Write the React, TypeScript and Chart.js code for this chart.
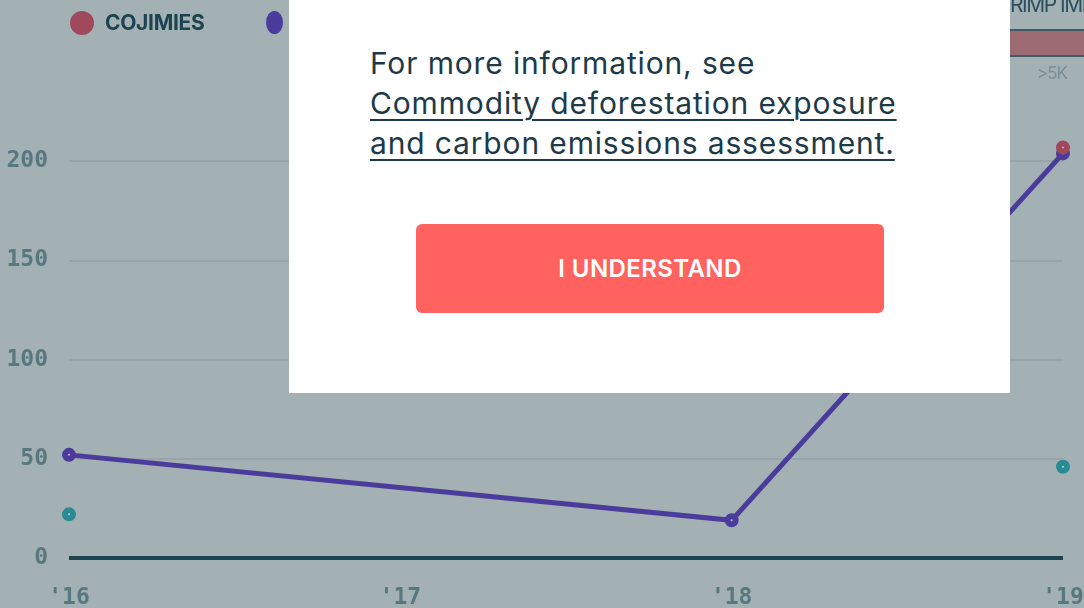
import React, { useEffect, useRef } from "react";
import { Chart, registerables } from "chart.js";

Chart.register(...registerables);

// ---- data ----
const YEARS: string[] = ["'16", "'17", "'18", "'19"];
const COJIMIES: (number | null)[] = [null, null, null, 207];
const SERIES_PURPLE: (number | null)[] = [52, null, 19, 204];
const SERIES_TEAL: (number | null)[] = [22, null, null, 46];
const Y_MIN = 0;
const Y_MAX = 240;
const Y_STEP = 50;
const LEGEND_LABELS: string[] = ["COJIMIES", "SAN VICENTE"];

const BG = "#a3b0b4";
const RED = "#a1495c";
const PURPLE = "#4b3b9b";
const TEAL = "#2a8b93";
const TICK_COLOR = "#587880";
const DARK = "#1d4350";

const zeroPad = (s: any) => {
  s.paddingTop = 0;
  s.paddingBottom = 0;
  s.paddingLeft = 0;
  s.paddingRight = 0;
};

export default function App() {
  const canvasRef = useRef<HTMLCanvasElement | null>(null);

  useEffect(() => {
    document.body.style.margin = "0";
    const canvas = canvasRef.current;
    if (!canvas) return;
    const monoFont = { family: "'DejaVu Sans Mono', monospace", size: 23, weight: "bold" as const };
    const pointStyle = (color: string, light: string) => ({
      borderColor: color,
      pointBorderColor: color,
      pointBackgroundColor: light,
      pointRadius: 4,
      pointBorderWidth: 6,
      pointHoverRadius: 4,
      borderWidth: 5,
      tension: 0,
    });
    const chart = new Chart(canvas, {
      type: "line",
      data: {
        labels: YEARS,
        datasets: [
          { label: LEGEND_LABELS[0], data: COJIMIES, spanGaps: true, ...pointStyle(RED, "#d8b0b8") },
          { label: LEGEND_LABELS[1], data: SERIES_PURPLE, spanGaps: true, ...pointStyle(PURPLE, "#c0b8e0") },
          { label: "other", data: SERIES_TEAL, spanGaps: false, showLine: false, ...pointStyle(TEAL, "#b0d8dc") },
        ],
      },
      options: {
        animation: false,
        responsive: false,
        maintainAspectRatio: false,
        layout: { padding: { top: 82, right: 21, left: 0, bottom: 0 } },
        plugins: { legend: { display: false }, tooltip: { enabled: false } },
        scales: {
          x: {
            type: "category",
            offset: false,
            grid: { display: false, drawTicks: false },
            border: { display: false },
            ticks: { font: monoFont, color: TICK_COLOR, padding: 26, maxRotation: 0 },
            afterFit: (s: any) => {
              s.height = 50;
              zeroPad(s);
            },
          },
          y: {
            min: Y_MIN,
            max: Y_MAX,
            border: { display: false },
            grid: {
              drawTicks: false,
              color: (ctx: any) => (ctx.tick && ctx.tick.value === 0 ? DARK : "#97a5aa"),
              lineWidth: (ctx: any) => (ctx.tick && ctx.tick.value === 0 ? 4 : 2),
            },
            ticks: {
              stepSize: Y_STEP,
              includeBounds: false,
              font: monoFont,
              color: TICK_COLOR,
              padding: 21,
            },
            afterFit: (s: any) => {
              s.width = 69;
              zeroPad(s);
            },
          },
        },
      },
    });
    return () => chart.destroy();
  }, []);

  const sans = "Inter, 'Noto Sans', sans-serif";

  return (
    <div style={{ position: "fixed", left: 0, top: 0, width: 1084, height: 608, background: BG, overflow: "hidden" }}>
      <canvas ref={canvasRef} width={1084} height={608} style={{ position: "absolute", left: 0, top: 0 }} />
      {/* legend */}
      <div style={{ position: "absolute", left: 70, top: 11, width: 24, height: 24, borderRadius: "50%", background: RED }} />
      <div style={{ position: "absolute", left: 105, top: 9, fontFamily: sans, fontWeight: 700, fontSize: 21, color: DARK, letterSpacing: -0.3, lineHeight: "28px" }}>
        {LEGEND_LABELS[0]}
      </div>
      <div style={{ position: "absolute", left: 266, top: 11, width: 17, height: 23, borderRadius: "50%", background: PURPLE }} />
      <div style={{ position: "absolute", left: 297, top: 9, fontFamily: sans, fontWeight: 700, fontSize: 21, color: DARK, lineHeight: "28px" }}>
        {LEGEND_LABELS[1]}
      </div>
      {/* top right strip */}
      <div style={{ position: "absolute", left: 984, top: -9, fontFamily: sans, fontSize: 21, color: "#2b5060", letterSpacing: -1.5, whiteSpace: "nowrap", lineHeight: "28px" }}>
        SHRIMP IMPORTS
      </div>
      <div style={{ position: "absolute", left: 960, top: 29, width: 124, height: 24, background: "#9c6a72", borderTop: "2px solid #3f5c66", borderBottom: "2px solid #3f5c66" }} />
      <div style={{ position: "absolute", left: 1037, top: 62, fontFamily: sans, fontSize: 17, color: "#7b8f96", letterSpacing: -1, lineHeight: "22px" }}>
        &gt;5K
      </div>
      {/* modal */}
      <div style={{ position: "absolute", left: 289, top: -20, width: 721, height: 413, background: "#ffffff" }}>
        <div style={{ position: "absolute", left: 81, top: 63, fontFamily: sans, fontSize: 30, lineHeight: "40px", color: "#1e3a48", letterSpacing: 0.85, whiteSpace: "nowrap" }}>
          <div>For more information, see</div>
          <div style={{ textDecoration: "underline", textDecorationThickness: 2, textUnderlineOffset: 5 }}>Commodity deforestation exposure</div>
          <div style={{ textDecoration: "underline", textDecorationThickness: 2, textUnderlineOffset: 5 }}>and carbon emissions assessment.</div>
        </div>
        <div style={{ position: "absolute", left: 127, top: 244, width: 468, height: 89, background: "#ff625f", borderRadius: 6, display: "flex", alignItems: "center", justifyContent: "center", fontFamily: sans, fontWeight: 600, fontSize: 24, letterSpacing: 0.4, color: "#ffffff" }}>
          I UNDERSTAND
        </div>
      </div>
    </div>
  );
}
